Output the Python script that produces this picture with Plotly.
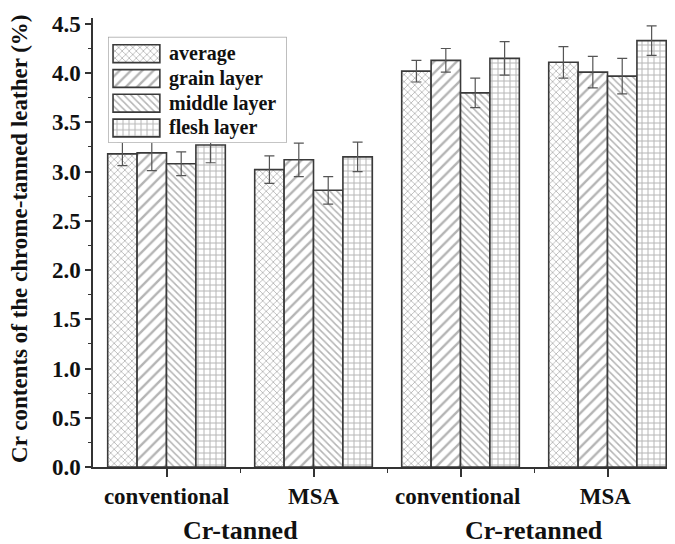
import plotly.graph_objects as go

categories = ["conventional", "MSA", "conventional ", "MSA "]
groups = ["Cr-tanned", "Cr-retanned"]
series = ["average", "grain layer", "middle layer", "flesh layer"]

average = [3.18, 3.02, 4.02, 4.11]
average_err = [0.12, 0.14, 0.11, 0.16]
grain = [3.19, 3.12, 4.13, 4.01]
grain_err = [0.18, 0.17, 0.12, 0.16]
middle = [3.08, 2.81, 3.80, 3.97]
middle_err = [0.12, 0.14, 0.15, 0.18]
flesh = [3.27, 3.15, 4.15, 4.33]
flesh_err = [0.18, 0.15, 0.17, 0.15]

y_ticks = [0, 0.5, 1.0, 1.5, 2.0, 2.5, 3.0, 3.5, 4.0, 4.5]

values = [average, grain, middle, flesh]
errors = [average_err, grain_err, middle_err, flesh_err]
shapes = ["x", "/", "\\", "+"]
sizes = [5, 8, 5, 6]

FONT = "Liberation Serif"
OUTLINE = "#3a3a3a"
PAT = "#6a6a6a"

fig = go.Figure()
for name, v, e, shape, size in zip(series, values, errors, shapes, sizes):
    fig.add_trace(go.Bar(
        name=name, x=categories, y=v, showlegend=False,
        error_y=dict(type="data", array=e, visible=True, color="#555",
                     thickness=1.2, width=5),
        marker=dict(color="white",
                    line=dict(color=OUTLINE, width=1.6),
                    pattern=dict(shape=shape, size=size, fgcolor=PAT,
                                 bgcolor="white", solidity=0.3)),
    ))

# custom legend on its own small axes (drawn above the main bars):
# first element is the opaque legend box, then the four patterned swatches
row_centers = [0.841, 0.607, 0.374, 0.140]
fig.add_trace(go.Bar(
    y=[0.5] + row_centers, x=[1] + [0.262] * 4,
    base=[0] + [0.028] * 4, width=[1] + [0.168] * 4,
    offset=[-0.5] + [-0.084] * 4,
    orientation="h", xaxis="x2", yaxis="y2",
    showlegend=False, hoverinfo="skip", cliponaxis=False,
    marker=dict(color="white",
                line=dict(color=["#999"] + [OUTLINE] * 4,
                          width=[1.2] + [1.6] * 4),
                pattern=dict(shape=[""] + shapes, size=[8] + sizes,
                             fgcolor=PAT, bgcolor="white", solidity=0.3)),
))

fig.update_layout(
    width=667, height=536,
    margin=dict(l=85, r=0, t=10, b=77),
    paper_bgcolor="white", plot_bgcolor="white",
    barmode="group", bargap=0.2, bargroupgap=0,
    font=dict(family=FONT, color="#111"),
    showlegend=False,
    xaxis=dict(
        range=[-0.5, 3.459], showline=True, linecolor="#333", linewidth=1.5,
        ticks="outside", ticklen=8, tickwidth=1.5, tickcolor="#333",
        tickfont=dict(size=23, family=FONT, weight="bold"),
        minor=dict(ticks="outside", ticklen=4, tickwidth=1.2, tickcolor="#333",
                   tickvals=[0.5, 1.5, 2.5]),
        showgrid=False, zeroline=False,
    ),
    yaxis=dict(
        range=[0, 4.56], showline=True, linecolor="#333", linewidth=1.5,
        tickvals=y_ticks, ticktext=[f"{t:.1f}" for t in y_ticks],
        ticks="outside", ticklen=6, tickwidth=1.5, tickcolor="#333",
        tickfont=dict(size=23, family=FONT, weight="bold"),
        minor=dict(ticks="outside", ticklen=3, tickwidth=1.2, tickcolor="#333",
                   dtick=0.25, tick0=0),
        showgrid=False, zeroline=False,
    ),
    xaxis2=dict(domain=[0.0258, 0.333], range=[0, 1], anchor="y2",
                visible=False, fixedrange=True),
    yaxis2=dict(domain=[0.722, 0.958], range=[0, 1], anchor="x2",
                visible=False, fixedrange=True),
)
for ry, name in zip(row_centers, series):
    fig.add_annotation(x=0.33, xref="x2", y=ry, yref="y2",
                       text=name, showarrow=False, xanchor="left",
                       yanchor="middle",
                       font=dict(size=20, family=FONT, weight="bold", color="#111"))

fig.add_annotation(x=-0.1254, xref="paper", y=0.508, yref="paper",
                   text="Cr contents of the chrome-tanned leather (%)",
                   textangle=-90, showarrow=False, xanchor="center",
                   yanchor="middle",
                   font=dict(size=23, family=FONT, weight="bold", color="#111"))

for gx, g in zip([0.5, 2.5], groups):
    fig.add_annotation(x=gx, xref="x", y=0, yref="paper", yshift=-63,
                       text=g, showarrow=False, yanchor="middle",
                       font=dict(size=26, family=FONT, weight="bold", color="#111"))

fig.write_html("out.html")
